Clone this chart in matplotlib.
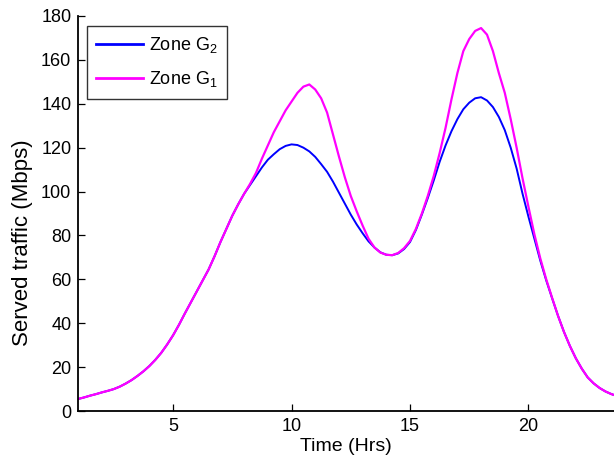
import numpy as np
import matplotlib
matplotlib.use("Agg")
import matplotlib.pyplot as plt

plt.rcParams['font.family'] = ['Liberation Sans', 'DejaVu Sans']
plt.rcParams['mathtext.fontset'] = 'custom'
plt.rcParams['mathtext.rm'] = 'Liberation Sans'
plt.rcParams['mathtext.it'] = 'Liberation Sans'

# Hour of day, quarter-hour steps
hours = [1.0, 1.25, 1.5, 1.75, 2.0, 2.25, 2.5, 2.75, 3.0, 3.25, 3.5, 3.75,
         4.0, 4.25, 4.5, 4.75, 5.0, 5.25, 5.5, 5.75, 6.0, 6.25, 6.5, 6.75,
         7.0, 7.25, 7.5, 7.75, 8.0, 8.25, 8.5, 8.75, 9.0, 9.25, 9.5, 9.75,
         10.0, 10.25, 10.5, 10.75, 11.0, 11.25, 11.5, 11.75, 12.0, 12.25,
         12.5, 12.75, 13.0, 13.25, 13.5, 13.75, 14.0, 14.25, 14.5, 14.75,
         15.0, 15.25, 15.5, 15.75, 16.0, 16.25, 16.5, 16.75, 17.0, 17.25,
         17.5, 17.75, 18.0, 18.25, 18.5, 18.75, 19.0, 19.25, 19.5, 19.75,
         20.0, 20.25, 20.5, 20.75, 21.0, 21.25, 21.5, 21.75, 22.0, 22.25,
         22.5, 22.75, 23.0, 23.25, 23.5, 23.75, 24.0]

# Served traffic (Mbps), zone G1
zone_g1 = [5.5, 6.2, 7.0, 7.7, 8.5, 9.2, 10.0, 11.1, 12.5, 14.1, 16.0, 18.1,
           20.5, 23.3, 26.5, 30.3, 34.5, 39.3, 44.5, 49.5, 54.5, 59.5, 64.5,
           70.5, 77.0, 83.0, 89.0, 94.2, 99.0, 103.5, 108.5, 115.0, 121.0,
           127.0, 132.0, 137.0, 141.0, 145.0, 147.8, 148.8, 146.5, 142.5,
           136.0, 126.0, 116.0, 106.5, 98.0, 91.0, 84.5, 78.5, 74.5, 72.2,
           71.2, 71.0, 72.0, 74.2, 77.5, 83.0, 90.0, 98.0, 107.0, 117.5,
           129.0, 142.0, 154.0, 164.0, 169.5, 173.2, 174.5, 171.5, 164.0,
           154.0, 145.0, 133.0, 120.0, 106.0, 93.0, 80.5, 69.5, 60.0, 51.5,
           43.3, 36.0, 29.6, 24.0, 19.3, 15.3, 12.6, 10.5, 8.9, 7.7, 6.8, 6.0]

# Served traffic (Mbps), zone G2
zone_g2 = [5.5, 6.2, 7.0, 7.7, 8.5, 9.2, 10.0, 11.1, 12.5, 14.1, 16.0, 18.1,
           20.5, 23.3, 26.5, 30.3, 34.5, 39.3, 44.5, 49.5, 54.5, 59.5, 64.5,
           70.5, 77.0, 83.0, 89.0, 94.2, 99.0, 103.0, 107.0, 111.0, 114.5,
           117.0, 119.3, 120.8, 121.5, 121.2, 120.0, 118.3, 115.8, 112.5,
           109.0, 104.5, 99.5, 94.5, 89.5, 85.0, 81.0, 77.3, 74.5, 72.3,
           71.2, 71.0, 71.8, 73.8, 77.0, 82.5, 89.5, 97.0, 105.0, 113.5,
           121.0, 127.5, 133.0, 137.5, 140.5, 142.5, 143.0, 141.5, 138.5,
           134.0, 128.0, 120.0, 110.5, 99.0, 88.5, 78.5, 68.5, 59.5, 51.3,
           43.3, 36.0, 29.6, 24.0, 19.3, 15.3, 12.6, 10.5, 8.9, 7.7, 6.8, 6.0]

W, H = 614, 459
fig = plt.figure(figsize=(W / 100, H / 100), dpi=100)
left, right, top, bottom = 78.3, 614, 16, 411
ax = fig.add_axes([left / W, 1 - bottom / H, (right - left) / W, (bottom - top) / H])

ax.plot(hours, zone_g2, color='#0000ff', lw=1.4, label=r'Zone G$_2$')
ax.plot(hours, zone_g1, color='#ff00ff', lw=1.6, label=r'Zone G$_1$')

ax.set_xlim(1, 23.61)
ax.set_ylim(0, 180)
ax.set_xticks([5, 10, 15, 20])
ax.set_yticks(np.arange(0, 181, 20))

for s in ['top', 'right']:
    ax.spines[s].set_visible(False)
for s in ['left', 'bottom']:
    ax.spines[s].set_linewidth(1.3)
ax.tick_params(direction='in', length=5, width=0.9, labelsize=13, pad=5)

ax.set_xlabel('Time (Hrs)', fontsize=14, labelpad=2)
ax.set_ylabel('Served traffic (Mbps)', fontsize=16, va='center')
ax.yaxis.set_label_coords(-0.105, 0.425)

leg = ax.legend(loc='upper left', bbox_to_anchor=(87 / W, 1 - 26 / H),
                bbox_transform=fig.transFigure, borderaxespad=0,
                fontsize=13, handlelength=2.6, handletextpad=0.35,
                frameon=True, fancybox=False, labelspacing=0.8, borderpad=0.5)
leg.get_frame().set_edgecolor('black')
leg.get_frame().set_linewidth(1.0)
for line in leg.get_lines():
    line.set_linewidth(2.0)

fig.savefig('out.png', dpi=100)
